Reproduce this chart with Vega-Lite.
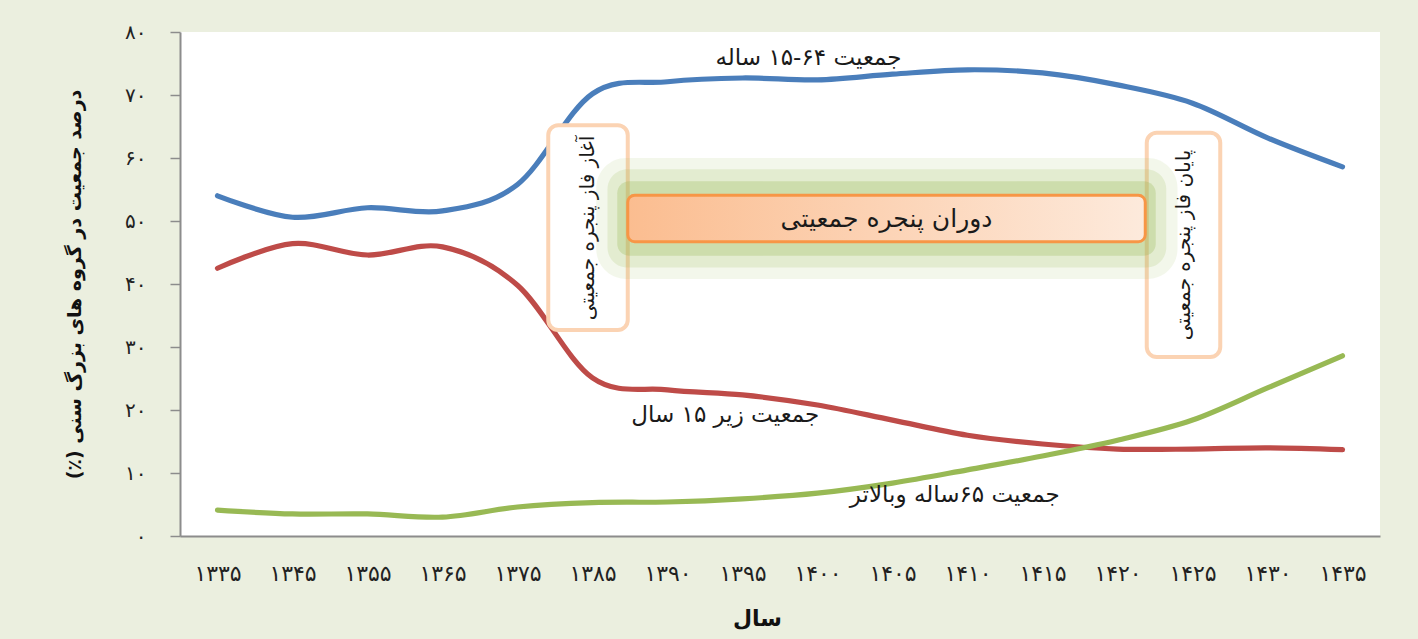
{
  "$schema": "https://vega.github.io/schema/vega-lite/v6.json",
  "width": 1200,
  "height": 504,
  "autosize": {"type": "none"},
  "padding": {"left": 180, "top": 32, "right": 38, "bottom": 103},
  "background": "#ebefdf",
  "config": {"view": {"fill": "white", "stroke": null}, "font": "DejaVu Sans"},
  "datasets": {
    "series": [
      {"i": 0, "year": "۱۳۳۵", "group": "15-64", "value": 54.0},
      {"i": 1, "year": "۱۳۴۵", "group": "15-64", "value": 50.6},
      {"i": 2, "year": "۱۳۵۵", "group": "15-64", "value": 52.1},
      {"i": 3, "year": "۱۳۶۵", "group": "15-64", "value": 51.6},
      {"i": 4, "year": "۱۳۷۵", "group": "15-64", "value": 55.8},
      {"i": 5, "year": "۱۳۸۵", "group": "15-64", "value": 70.2},
      {"i": 6, "year": "۱۳۹۰", "group": "15-64", "value": 72.1},
      {"i": 7, "year": "۱۳۹۵", "group": "15-64", "value": 72.7},
      {"i": 8, "year": "۱۴۰۰", "group": "15-64", "value": 72.4},
      {"i": 9, "year": "۱۴۰۵", "group": "15-64", "value": 73.3},
      {"i": 10, "year": "۱۴۱۰", "group": "15-64", "value": 74.0},
      {"i": 11, "year": "۱۴۱۵", "group": "15-64", "value": 73.5},
      {"i": 12, "year": "۱۴۲۰", "group": "15-64", "value": 71.6},
      {"i": 13, "year": "۱۴۲۵", "group": "15-64", "value": 68.7},
      {"i": 14, "year": "۱۴۳۰", "group": "15-64", "value": 63.2},
      {"i": 15, "year": "۱۴۳۵", "group": "15-64", "value": 58.6},
      {"i": 0, "year": "۱۳۳۵", "group": "0-14", "value": 42.5},
      {"i": 1, "year": "۱۳۴۵", "group": "0-14", "value": 46.4},
      {"i": 2, "year": "۱۳۵۵", "group": "0-14", "value": 44.6},
      {"i": 3, "year": "۱۳۶۵", "group": "0-14", "value": 45.9},
      {"i": 4, "year": "۱۳۷۵", "group": "0-14", "value": 39.8},
      {"i": 5, "year": "۱۳۸۵", "group": "0-14", "value": 25.1},
      {"i": 6, "year": "۱۳۹۰", "group": "0-14", "value": 23.2},
      {"i": 7, "year": "۱۳۹۵", "group": "0-14", "value": 22.4},
      {"i": 8, "year": "۱۴۰۰", "group": "0-14", "value": 20.8},
      {"i": 9, "year": "۱۴۰۵", "group": "0-14", "value": 18.4},
      {"i": 10, "year": "۱۴۱۰", "group": "0-14", "value": 16.0},
      {"i": 11, "year": "۱۴۱۵", "group": "0-14", "value": 14.6},
      {"i": 12, "year": "۱۴۲۰", "group": "0-14", "value": 13.8},
      {"i": 13, "year": "۱۴۲۵", "group": "0-14", "value": 13.8},
      {"i": 14, "year": "۱۴۳۰", "group": "0-14", "value": 14.0},
      {"i": 15, "year": "۱۴۳۵", "group": "0-14", "value": 13.7},
      {"i": 0, "year": "۱۳۳۵", "group": "65+", "value": 4.1},
      {"i": 1, "year": "۱۳۴۵", "group": "65+", "value": 3.5},
      {"i": 2, "year": "۱۳۵۵", "group": "65+", "value": 3.5},
      {"i": 3, "year": "۱۳۶۵", "group": "65+", "value": 3.0},
      {"i": 4, "year": "۱۳۷۵", "group": "65+", "value": 4.6},
      {"i": 5, "year": "۱۳۸۵", "group": "65+", "value": 5.3},
      {"i": 6, "year": "۱۳۹۰", "group": "65+", "value": 5.4},
      {"i": 7, "year": "۱۳۹۵", "group": "65+", "value": 5.9},
      {"i": 8, "year": "۱۴۰۰", "group": "65+", "value": 6.8},
      {"i": 9, "year": "۱۴۰۵", "group": "65+", "value": 8.4},
      {"i": 10, "year": "۱۴۱۰", "group": "65+", "value": 10.5},
      {"i": 11, "year": "۱۴۱۵", "group": "65+", "value": 12.7},
      {"i": 12, "year": "۱۴۲۰", "group": "65+", "value": 15.2},
      {"i": 13, "year": "۱۴۲۵", "group": "65+", "value": 18.4},
      {"i": 14, "year": "۱۴۳۰", "group": "65+", "value": 23.5},
      {"i": 15, "year": "۱۴۳۵", "group": "65+", "value": 28.6}
    ],
    "labels": [
      {"label": "جمعیت ۶۴-۱۵ ساله", "i": 7.88, "v": 75.9},
      {"label": "جمعیت زیر ۱۵ سال", "i": 6.77, "v": 19.2},
      {"label": "جمعیت ۶۵ساله وبالاتر", "i": 9.83, "v": 6.5}
    ],
    "vlabels": [
      {"label": "آغاز فاز پنجره جمعیتی", "i": 4.94, "v": 48.9},
      {"label": "پایان فاز پنجره جمعیتی", "i": 12.88, "v": 46.2}
    ],
    "center": [
      {"label": "دوران پنجره جمعیتی", "i": 8.92, "v": 50.3}
    ]
  },
  "layer": [
    {
      "data": {"name": "series"},
      "mark": {"type": "line", "interpolate": "cardinal", "strokeWidth": 5.2, "strokeCap": "round"},
      "encoding": {
        "x": {
          "field": "i", "type": "quantitative",
          "scale": {"domain": [-0.5, 15.5], "nice": false, "zero": false},
          "axis": {
            "values": [0,1,2,3,4,5,6,7,8,9,10,11,12,13,14,15],
            "labelExpr": "['۱۳۳۵','۱۳۴۵','۱۳۵۵','۱۳۶۵','۱۳۷۵','۱۳۸۵','۱۳۹۰','۱۳۹۵','۱۴۰۰','۱۴۰۵','۱۴۱۰','۱۴۱۵','۱۴۲۰','۱۴۲۵','۱۴۳۰','۱۴۳۵'][datum.value]",
            "ticks": false, "grid": false,
            "domainColor": "#8c8c8c", "domainWidth": 2,
            "labelFontSize": 22, "labelColor": "#222", "labelPadding": 27,
            "title": "سال", "titleFontSize": 22, "titleFontWeight": "bold", "titleColor": "#111", "titlePadding": 24, "titleX": 577
          }
        },
        "y": {
          "field": "value", "type": "quantitative",
          "scale": {"domain": [0, 80], "nice": false},
          "axis": {
            "values": [0,10,20,30,40,50,60,70,80],
            "labelExpr": "['۰','۱۰','۲۰','۳۰','۴۰','۵۰','۶۰','۷۰','۸۰'][datum.value/10]",
            "grid": false, "tickSize": 10, "tickColor": "#8c8c8c", "tickWidth": 1.5,
            "domainColor": "#8c8c8c", "domainWidth": 2,
            "labelFontSize": 20, "labelColor": "#222", "labelPadding": 24,
            "title": "درصد جمعیت در گروه های بزرگ سنی (٪)‏", "titleFontSize": 19, "titleFontWeight": "bold", "titleColor": "#111", "titlePadding": 40
          }
        },
        "color": {
          "field": "group", "type": "nominal",
          "scale": {"domain": ["15-64", "0-14", "65+"], "range": ["#4a7ebb", "#be4b48", "#98b954"]},
          "legend": null
        }
      }
    },
    {
      "data": {"values": [{}]},
      "mark": {"type": "rect", "fill": "white", "stroke": "#fbd3b3", "strokeWidth": 4, "cornerRadius": 10},
      "encoding": {
        "x": {"datum": 4.41, "type": "quantitative"},
        "x2": {"datum": 5.47},
        "y": {"datum": 65.2, "type": "quantitative"},
        "y2": {"datum": 32.7}
      }
    },
    {
      "data": {"values": [{}]},
      "mark": {"type": "rect", "fill": "white", "stroke": "#fbd3b3", "strokeWidth": 4, "cornerRadius": 10},
      "encoding": {
        "x": {"datum": 12.39, "type": "quantitative"},
        "x2": {"datum": 13.37},
        "y": {"datum": 64.0, "type": "quantitative"},
        "y2": {"datum": 28.4}
      }
    },
    {
      "data": {"values": [{}]},
      "mark": {"type": "rect", "fill": "#9bbb59", "opacity": 0.12, "cornerRadius": 30},
      "encoding": {
        "x": {"datum": 5.05, "type": "quantitative"},
        "x2": {"datum": 12.8},
        "y": {"datum": 60.0, "type": "quantitative"},
        "y2": {"datum": 40.8}
      }
    },
    {
      "data": {"values": [{}]},
      "mark": {"type": "rect", "fill": "#9bbb59", "opacity": 0.18, "cornerRadius": 20},
      "encoding": {
        "x": {"datum": 5.2, "type": "quantitative"},
        "x2": {"datum": 12.65},
        "y": {"datum": 58.2, "type": "quantitative"},
        "y2": {"datum": 42.6}
      }
    },
    {
      "data": {"values": [{}]},
      "mark": {"type": "rect", "fill": "#9bbb59", "opacity": 0.3, "cornerRadius": 12},
      "encoding": {
        "x": {"datum": 5.33, "type": "quantitative"},
        "x2": {"datum": 12.51},
        "y": {"datum": 56.3, "type": "quantitative"},
        "y2": {"datum": 44.5}
      }
    },
    {
      "data": {"values": [{}]},
      "mark": {
        "type": "rect", "stroke": "#f79646", "strokeWidth": 3, "cornerRadius": 7,
        "fill": {"gradient": "linear", "x1": 0, "y1": 0, "x2": 1, "y2": 0, "stops": [{"offset": 0, "color": "#fbbd90"}, {"offset": 1, "color": "#fdeadc"}]}
      },
      "encoding": {
        "x": {"datum": 5.47, "type": "quantitative"},
        "x2": {"datum": 12.37},
        "y": {"datum": 54.1, "type": "quantitative"},
        "y2": {"datum": 46.7}
      }
    },
    {
      "data": {"name": "labels"},
      "mark": {"type": "text", "fontSize": 23, "color": "#1a1a1a"},
      "encoding": {
        "x": {"field": "i", "type": "quantitative"},
        "y": {"field": "v", "type": "quantitative"},
        "text": {"field": "label"}
      }
    },
    {
      "data": {"name": "vlabels"},
      "mark": {"type": "text", "fontSize": 20, "angle": 270, "color": "#1a1a1a"},
      "encoding": {
        "x": {"field": "i", "type": "quantitative"},
        "y": {"field": "v", "type": "quantitative"},
        "text": {"field": "label"}
      }
    },
    {
      "data": {"name": "center"},
      "mark": {"type": "text", "fontSize": 25, "color": "#1a1a1a"},
      "encoding": {
        "x": {"field": "i", "type": "quantitative"},
        "y": {"field": "v", "type": "quantitative"},
        "text": {"field": "label"}
      }
    }
  ]
}
